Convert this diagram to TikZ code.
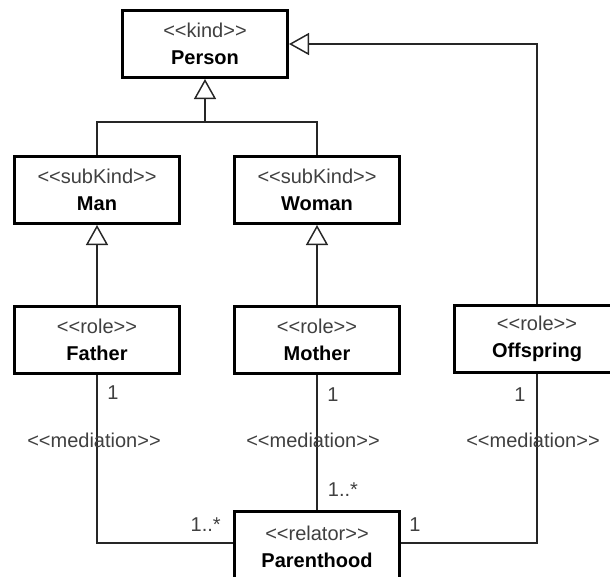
\documentclass[tikz,border=0pt]{standalone}
\usepackage{fontspec}
\setmainfont{Liberation Sans}
\usetikzlibrary{arrows.meta}
\definecolor{stereo}{HTML}{404040}
\definecolor{edge}{HTML}{262626}
\tikzset{
  cls/.style={draw=black, line width=2.25pt, fill=white, minimum width=123.75pt,
    minimum height=50.25pt, inner sep=0pt, align=center,
    font=\fontsize{15}{20}\selectfont},
  conn/.style={draw=edge, line width=1.1pt},
  gen/.style={conn, -{Triangle[open, length=15pt, width=16.5pt]}},
  lbl/.style={text=stereo, font=\fontsize{15}{18}\selectfont, inner sep=0pt},
}
\newcommand{\stereotype}[1]{<\kern0pt<#1>\kern0pt>}
\newcommand{\clsbox}[2]{\textcolor{stereo}{\stereotype{#1}}\\\textbf{#2}}
\begin{document}
\begin{tikzpicture}[x=0.75pt, y=-0.75pt]
\useasboundingbox (0,0) rectangle (610,576);
\clip (0,0) rectangle (610,576);
% classes
\node[cls] (person) at (205,44) {\clsbox{kind}{Person}};
\node[cls] (man) at (97,190) {\clsbox{subKind}{Man}};
\node[cls] (woman) at (317,190) {\clsbox{subKind}{Woman}};
\node[cls] (father) at (97,340) {\clsbox{role}{Father}};
\node[cls] (mother) at (317,340) {\clsbox{role}{Mother}};
\node[cls] (offspring) at (537,339) {\clsbox{role}{Offspring}};
\node[cls, minimum height=54pt] (parent) at (317,547) {\clsbox{relator}{Parenthood}};
% generalizations
\coordinate (j) at (205,122);
\draw[conn] (man.north) |- (j);
\draw[conn] (woman.north) |- (j);
\draw[gen] (j) -- (person.south);
\draw[gen] (father.north) -- (man.north |- man.south);
\draw[gen] (mother.north) -- (woman.north |- woman.south);
\draw[gen] (offspring.north) |- (person.east);
% mediations
\coordinate (pw) at (parent.west |- 0,543);
\coordinate (pe) at (parent.east |- 0,543);
\draw[conn] (father.south) |- (pw);
\draw[conn] (mother.south) -- (parent.north);
\draw[conn] (offspring.south) |- (pe);
% labels
\node[lbl] (m1a) at (113,393) {1};
\node[lbl] (md1) at (94,440) {\stereotype{mediation}};
\node[lbl, anchor=east] (m1b) at (221,525) {1..*};
\node[lbl] (m2a) at (333,395) {1};
\node[lbl] (md2) at (313,440) {\stereotype{mediation}};
\node[lbl] (m2b) at (343,490) {1..*};
\node[lbl] (m3a) at (520,395) {1};
\node[lbl] (md3) at (533,440) {\stereotype{mediation}};
\node[lbl] (m3b) at (415,525) {1};
\end{tikzpicture}
\end{document}
